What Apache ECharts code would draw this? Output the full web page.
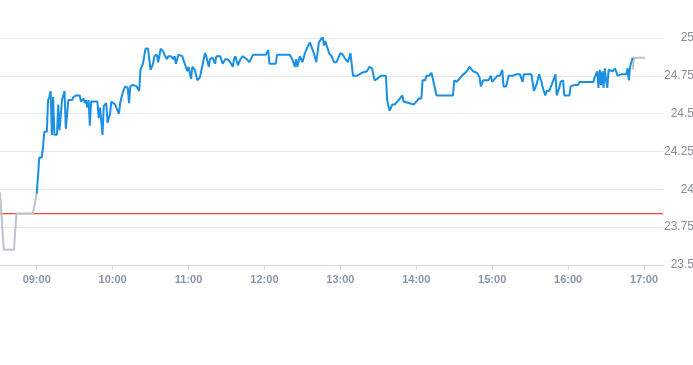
<!DOCTYPE html>
<html><head><meta charset="utf-8">
<script src="https://cdn.jsdelivr.net/npm/echarts@6/dist/echarts.min.js"></script>
<style>html,body{margin:0;padding:0;background:#fff}#c{width:693px;height:365px}</style>
</head><body><div id="c"></div>
<script>
// ---- data ----
const axisStart = '08:31';
const axisEnd = '17:15';
const hourTicks = ['09:00','10:00','11:00','12:00','13:00','14:00','15:00','16:00','17:00'];
const prevClose = 23.84;
const yMin = 23.5, yMax = 25, yStep = 0.25;

// minutes relative to 09:00 open
const preMin = [-29,-26,-18,-16,-3,-1,0];
const preVal = [23.98,23.60,23.60,23.84,23.84,23.93,23.97];

const mainMin = [0,1,2,3,4,5,6,7,8,9,10,11,12,13,14,15,16,17,18,19,20,22,23,25,28,29,31,34,35,37,38,39,40,41,42,43,45,48,49,50,51,52,53,55,56,58,59,62,65,66,68,70,72,73,74,76,79,81,82,84,85,86,88,90,92,93,95,96,98,100,101,103,104,106,108,109,110,112,115,117,119,120,122,123,125,127,129,131,133,134,136,137,139,141,142,145,147,149,150,151,153,155,156,157,159,161,163,166,168,171,174,178,181,183,184,187,189,190,194,198,200,202,204,205,206,208,210,212,214,216,219,221,223,224,226,227,228,230,231,233,235,237,240,242,244,246,248,250,253,257,261,263,265,267,269,272,276,277,278,279,281,283,286,289,290,294,298,300,302,304,305,307,308,310,312,316,329,330,332,336,340,342,345,348,350,351,353,357,359,360,362,364,366,368,369,371,373,376,379,382,384,385,389,391,393,395,397,399,400,402,403,405,407,408,410,411,413,414,416,417,421,422,425,428,429,433,440,441,442,443,444,445,446,447,448,449,450,451,452,453,455,457,458,459,462,464,466,467,468,469,470,471];
const mainVal = [23.97,24.08,24.21,24.21,24.21,24.28,24.38,24.38,24.38,24.59,24.61,24.65,24.36,24.61,24.36,24.36,24.36,24.56,24.39,24.39,24.59,24.65,24.40,24.59,24.59,24.61,24.62,24.62,24.58,24.60,24.57,24.59,24.54,24.59,24.42,24.58,24.58,24.58,24.47,24.54,24.46,24.36,24.55,24.57,24.44,24.50,24.58,24.56,24.50,24.57,24.64,24.68,24.67,24.57,24.68,24.69,24.68,24.65,24.79,24.83,24.84,24.93,24.93,24.79,24.83,24.88,24.89,24.84,24.93,24.91,24.89,24.86,24.88,24.88,24.86,24.88,24.83,24.89,24.88,24.83,24.78,24.81,24.73,24.81,24.79,24.72,24.74,24.82,24.90,24.88,24.81,24.86,24.87,24.83,24.88,24.88,24.83,24.86,24.87,24.86,24.84,24.81,24.86,24.88,24.82,24.86,24.88,24.86,24.84,24.89,24.89,24.89,24.89,24.92,24.83,24.83,24.83,24.89,24.89,24.89,24.89,24.86,24.81,24.86,24.81,24.88,24.84,24.90,24.94,24.97,24.90,24.84,24.97,24.98,25.01,24.95,24.98,24.93,24.90,24.88,24.84,24.84,24.90,24.89,24.86,24.84,24.90,24.75,24.75,24.77,24.78,24.81,24.80,24.72,24.73,24.75,24.75,24.59,24.55,24.52,24.56,24.56,24.59,24.62,24.58,24.57,24.56,24.58,24.60,24.60,24.72,24.72,24.75,24.75,24.77,24.62,24.62,24.72,24.71,24.75,24.78,24.81,24.78,24.77,24.74,24.68,24.72,24.72,24.75,24.71,24.73,24.75,24.75,24.79,24.68,24.68,24.75,24.75,24.76,24.76,24.71,24.76,24.76,24.76,24.65,24.69,24.76,24.71,24.67,24.62,24.65,24.65,24.69,24.68,24.76,24.62,24.67,24.71,24.72,24.62,24.62,24.68,24.69,24.69,24.71,24.71,24.71,24.74,24.76,24.78,24.67,24.79,24.69,24.78,24.67,24.80,24.72,24.67,24.79,24.79,24.78,24.80,24.78,24.75,24.76,24.76,24.76,24.80,24.72,24.81,24.84,24.87];

const postMin = [471,472,481];
const postVal = [24.79,24.87,24.87];

// ---- helpers (x in minutes since midnight) ----
const OPEN = 9 * 60;
function clock(s) { const p = s.split(':'); return (+p[0]) * 60 + (+p[1]); }
function pairs(mins, vals) { return mins.map((m, i) => [OPEN + m, vals[i]]); }
function pad(n) { return (n < 10 ? '0' : '') + n; }
function fmt(v) { const h = Math.floor(v / 60), m = Math.round(v - h * 60); return pad(h) + ':' + pad(m); }

const tickVals = hourTicks.map(clock);
const refLine = [[clock(axisStart), prevClose], [clock(axisEnd), prevClose]];

const chart = echarts.init(document.getElementById('c'), null, {renderer: 'canvas'});
chart.setOption({
  animation: false,
  backgroundColor: '#ffffff',
  grid: {left: 0, right: 30, top: 38, bottom: 100, containLabel: false, outerBoundsMode: 'none'},
  xAxis: {
    type: 'value',
    min: clock(axisStart),
    max: clock(axisEnd),
    axisLine: {show: true, onZero: false, lineStyle: {color: '#d3d8e0', width: 1}},
    axisTick: {show: true, length: 5, lineStyle: {color: '#d3d8e0'}, customValues: tickVals},
    axisLabel: {
      customValues: tickVals,
      color: '#8795a8', fontSize: 11, fontWeight: 'bold',
      fontFamily: 'Liberation Sans, Arial, sans-serif', margin: 9,
      formatter: fmt
    },
    splitLine: {show: false}
  },
  yAxis: {
    type: 'value', position: 'right',
    min: yMin, max: yMax, interval: yStep,
    axisLine: {show: false}, axisTick: {show: false},
    axisLabel: {align: 'right', margin: 31, color: '#8a8f99', fontSize: 12,
      fontFamily: 'Liberation Sans, Arial, sans-serif'},
    splitLine: {lineStyle: {color: '#e6e8eb', width: 1}}
  },
  series: [
    {type: 'line', data: refLine, showSymbol: false, symbol: 'none', silent: true,
      itemStyle: {color: '#f0473e'},
      lineStyle: {color: '#f0473e', width: 1.2, opacity: 1}, z: 1},
    {type: 'line', data: pairs(preMin, preVal), showSymbol: false, symbol: 'none',
      lineStyle: {color: '#bcc3cc', width: 2}, z: 2},
    {type: 'line', data: pairs(mainMin, mainVal), showSymbol: false, symbol: 'none',
      lineStyle: {color: '#1a8fe3', width: 2}, z: 3},
    {type: 'line', data: pairs(postMin, postVal), showSymbol: false, symbol: 'none',
      lineStyle: {color: '#bcc3cc', width: 2}, z: 2}
  ]
});
</script></body></html>
